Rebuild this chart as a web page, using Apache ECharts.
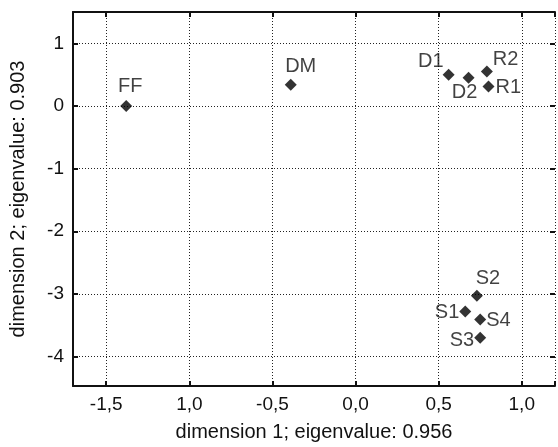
<!DOCTYPE html>
<html>
<head>
<meta charset="utf-8">
<script src="https://cdn.jsdelivr.net/npm/echarts@6/dist/echarts.min.js"></script>
<style>
html,body{margin:0;padding:0;background:#fff;}
#c{width:558px;height:447px;}
</style>
</head>
<body>
<div id="c"></div>
<script>
// ---- data ----
var names = ['FF', 'DM', 'D1', 'D2', 'R2', 'R1', 'S2', 'S1', 'S4', 'S3'];
var dim1 = [-1.38, -0.39, 0.56, 0.68, 0.79, 0.80, 0.73, 0.66, 0.75, 0.75];
var dim2 = [0.00, 0.34, 0.50, 0.45, 0.55, 0.31, -3.03, -3.28, -3.41, -3.70];
var xTickValues = [-1.5, -1.0, -0.5, 0.0, 0.5, 1.0];
var xTickLabels = ['-1,5', '1,0', '-0,5', '0,0', '0,5', '1,0'];
var yTickValues = [1, 0, -1, -2, -3, -4];
var yTickLabels = ['1', '0', '-1', '-2', '-3', '-4'];
var xTitle = 'dimension 1; eigenvalue: 0.956';
var yTitle = 'dimension 2; eigenvalue: 0.903';

// ---- label placement (style) ----
var labelPlace = {
  FF: {position: 'top', distance: 3, offset: [4, 0]},
  DM: {position: 'top', distance: 2, offset: [10, 0]},
  D1: {position: 'left', distance: -1, offset: [0, -13]},
  D2: {position: 'bottom', distance: -1, offset: [-4, 0]},
  R2: {position: 'right', distance: -2, offset: [2, -12]},
  R1: {position: 'right', distance: 1, offset: [0, 1]},
  S2: {position: 'top', distance: 1, offset: [11, 0]},
  S1: {position: 'left', distance: 0, offset: [0, 1]},
  S4: {position: 'right', distance: 0, offset: [0, 1]},
  S3: {position: 'left', distance: 0, offset: [0, 3]}
};

function lookup(vals, labs, v) {
  for (var i = 0; i < vals.length; i++) {
    if (Math.abs(vals[i] - v) < 1e-6) return labs[i];
  }
  return '';
}

var FONT = 'Liberation Sans, Arial, Helvetica, sans-serif';

var points = names.map(function (n, i) {
  var p = labelPlace[n];
  return {
    value: [dim1[i], dim2[i]],
    name: n,
    label: {show: true, formatter: n, position: p.position, distance: p.distance, offset: p.offset}
  };
});

var xMin = -1.7, xMax = 1.2, yMin = -4.47, yMax = 1.5;

var tickStyle = {show: true, inside: true, length: 5, lineStyle: {color: '#111', width: 2}};
var axisLineStyle = {show: true, onZero: false, lineStyle: {color: '#111', width: 2}};
var gridLine = {show: true, lineStyle: {color: '#222', width: 1, type: [1, 2]}};

var chart = echarts.init(document.getElementById('c'), null, {renderer: 'canvas'});
chart.setOption({
  animation: false,
  backgroundColor: '#fff',
  grid: {left: 72, top: 12, right: 0, bottom: 57, containLabel: false},
  xAxis: [{
    type: 'value', min: xMin, max: xMax, splitNumber: 6,
    name: xTitle, nameLocation: 'middle', nameGap: 36,
    nameTextStyle: {fontFamily: FONT, fontSize: 20, color: '#111'},
    axisLine: axisLineStyle, axisTick: tickStyle, splitLine: gridLine,
    axisLabel: {fontFamily: FONT, fontSize: 19, color: '#111', margin: 9,
      formatter: function (v) { return lookup(xTickValues, xTickLabels, v); }}
  }, {
    type: 'value', min: xMin, max: xMax, splitNumber: 6, position: 'top',
    axisLine: axisLineStyle, axisTick: tickStyle, splitLine: {show: false},
    axisLabel: {show: false}
  }],
  yAxis: [{
    type: 'value', min: yMin, max: yMax, splitNumber: 6,
    name: yTitle, nameLocation: 'middle', nameGap: 45,
    nameTextStyle: {fontFamily: FONT, fontSize: 20, color: '#111'},
    axisLine: axisLineStyle, axisTick: tickStyle, splitLine: gridLine,
    axisLabel: {fontFamily: FONT, fontSize: 19, color: '#111', margin: 9,
      formatter: function (v) { return lookup(yTickValues, yTickLabels, v); }}
  }, {
    type: 'value', min: yMin, max: yMax, splitNumber: 6, position: 'right',
    axisLine: {show: false, onZero: false}, axisTick: tickStyle, splitLine: {show: false},
    axisLabel: {show: false}
  }],
  series: [{
    type: 'scatter',
    xAxisIndex: 0, yAxisIndex: 0,
    symbol: 'diamond', symbolSize: 12,
    itemStyle: {color: '#000'},
    label: {fontFamily: FONT, fontSize: 20, color: '#111'},
    data: points
  }]
});
</script>
</body>
</html>
